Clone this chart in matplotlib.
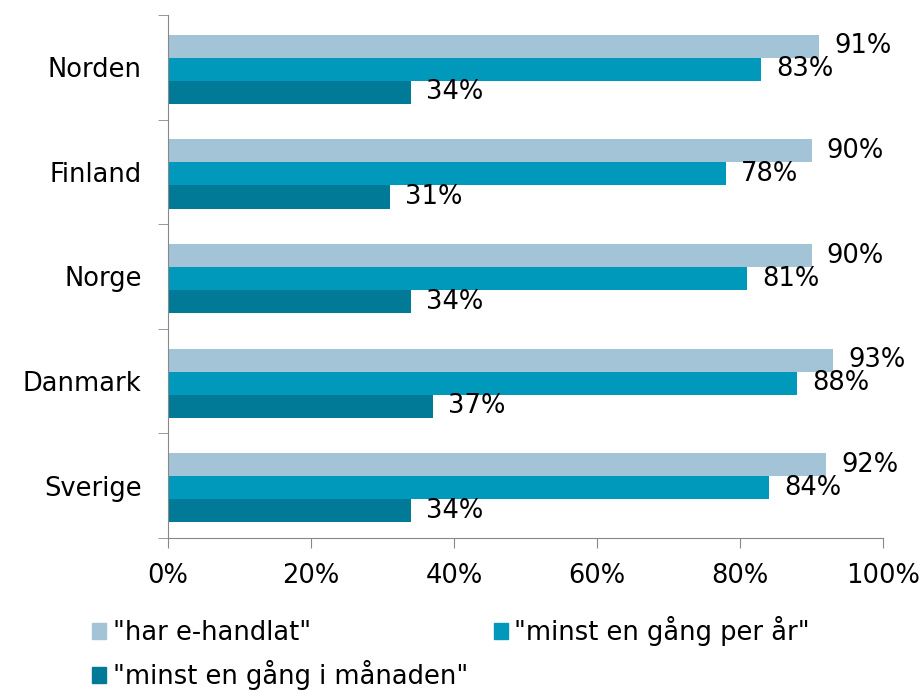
import matplotlib.pyplot as plt
import numpy as np
from matplotlib.patches import Patch

categories = ["Norden", "Finland", "Norge", "Danmark", "Sverige"]
har_ehandlat = [91, 90, 90, 93, 92]
per_ar = [83, 78, 81, 88, 84]
per_manad = [34, 31, 34, 37, 34]
series_names = ['"har e-handlat"', '"minst en gång per år"', '"minst en gång i månaden"']
colors = ["#A2C4D6", "#0099BC", "#007A96"]

plt.rcParams["font.family"] = "DejaVu Sans"
fs = 18.5

fig = plt.figure(figsize=(9.24, 6.91), dpi=100)
ax = fig.add_axes([168 / 924, 1 - 538 / 691, (883 - 168) / 924, (538 - 15) / 691])

y = np.arange(len(categories))
h = 0.22
for i, vals in enumerate([har_ehandlat, per_ar, per_manad]):
    pos = y + (i - 1) * h + 0.02
    ax.barh(pos, vals, height=h, color=colors[i], label=series_names[i])
    for p, v in zip(pos, vals):
        ax.annotate(f"{v}%", (v, p), xytext=(11, 0), textcoords="offset points",
                    va="center", ha="left", fontsize=fs)

ax.set_xlim(0, 100)
ax.set_ylim(4.5, -0.5)
ax.set_xticks(np.arange(0, 101, 20))
ax.set_xticklabels([f"{t}%" for t in range(0, 101, 20)], fontsize=fs)
ax.set_yticks(y)
ax.set_yticklabels(categories, fontsize=fs)
ax.set_yticks(np.arange(-0.5, 4.6, 1), minor=True)
ax.tick_params(axis="y", which="major", length=0, pad=19)
ax.tick_params(axis="y", which="minor", length=7, color="#888888")
ax.tick_params(axis="x", length=7, color="#888888", pad=11)

for s in ["top", "right"]:
    ax.spines[s].set_visible(False)
for s in ["left", "bottom"]:
    ax.spines[s].set_color("#888888")

handles = [Patch(color=c) for c in colors]
order = [0, 2, 1]
fig.legend([handles[k] for k in order], [series_names[k] for k in order],
           ncol=2, loc="upper left", bbox_to_anchor=(92 / 924, 1 - 616 / 691),
           frameon=False, fontsize=fs, borderpad=0, borderaxespad=0,
           handlelength=0.55, handleheight=0.55, handletextpad=0.25,
           columnspacing=1.0, labelspacing=0.55)

fig.savefig("out.png", dpi=100)
